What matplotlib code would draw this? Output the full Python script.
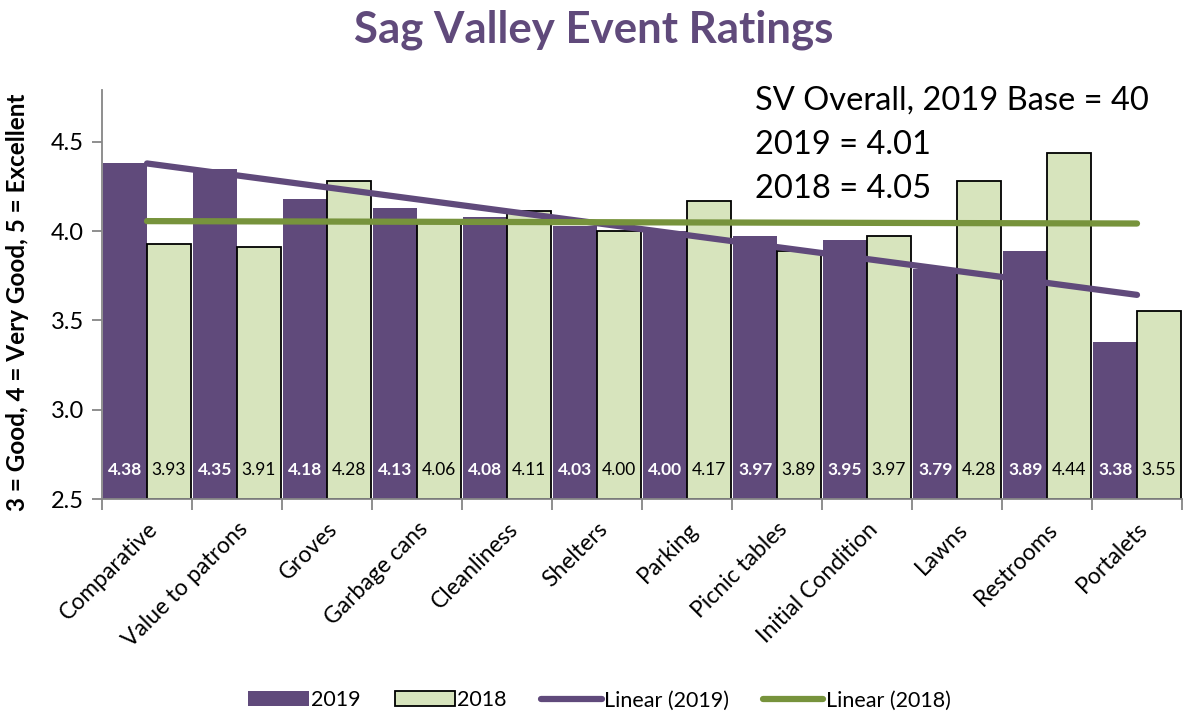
import numpy as np
import matplotlib
matplotlib.use("Agg")
from matplotlib import pyplot as plt

plt.rcParams['font.family'] = ['Lato', 'DejaVu Sans']

categories = ["Comparative", "Value to patrons", "Groves", "Garbage cans",
              "Cleanliness", "Shelters", "Parking", "Picnic tables",
              "Initial Condition", "Lawns", "Restrooms", "Portalets"]
vals_2019 = [4.38, 4.35, 4.18, 4.13, 4.08, 4.03, 4.00, 3.97, 3.95, 3.79, 3.89, 3.38]
vals_2018 = [3.93, 3.91, 4.28, 4.06, 4.11, 4.00, 4.17, 3.89, 3.97, 4.28, 4.44, 3.55]
y_ticks = [2.5, 3.0, 3.5, 4.0, 4.5]
note_lines = ["SV Overall, 2019 Base = 40", "2019 = 4.01", "2018 = 4.05"]

purple = "#604A7B"
light_green = "#D7E4BD"
dark_green = "#77933C"

fig = plt.figure(figsize=(11.87, 7.19), dpi=100)
ax = fig.add_axes([102 / 1187, 1 - 499 / 719, 1080 / 1187, 409 / 719])

x = np.arange(len(categories))
w = 0.485
b1 = ax.bar(x - w / 2, np.array(vals_2019) - 2.5, w, bottom=2.5, color=purple,
            edgecolor=purple, linewidth=0, label="2019")
b2 = ax.bar(x + w / 2, np.array(vals_2018) - 2.5, w, bottom=2.5, color=light_green,
            edgecolor="black", linewidth=1.3, label="2018")

# trendlines (linear fit like Excel)
k1 = np.polyfit(x + 1, vals_2019, 1)
k2 = np.polyfit(x + 1, vals_2018, 1)
l1, = ax.plot(x, np.polyval(k1, x + 1), color=purple, lw=4.5, solid_capstyle="round",
              label="Linear (2019)")
l2, = ax.plot(x, np.polyval(k2, x + 1), color=dark_green, lw=4.5, solid_capstyle="round",
              label="Linear (2018)")

for i in range(len(categories)):
    ax.text(x[i] - w / 2, 2.665, f"{vals_2019[i]:.2f}", ha="center", va="center",
            color="white", fontsize=12.5, fontweight="bold")
    ax.text(x[i] + w / 2, 2.665, f"{vals_2018[i]:.2f}", ha="center", va="center",
            color="black", fontsize=12.5)

ax.set_xlim(-0.5, len(categories) - 0.5)
ax.set_ylim(2.5, 4.79)
ax.set_yticks(y_ticks)
ax.set_yticklabels([f"{t:.1f}" for t in y_ticks], fontsize=17)
ax.set_xticks(x)
ax.set_xticklabels(categories, rotation=45, ha="right", rotation_mode="anchor",
                   fontsize=16.5)
ax.set_xticks(np.arange(len(categories) + 1) - 0.5, minor=True)
ax.tick_params(axis="x", which="major", length=0, pad=14)
ax.tick_params(axis="x", which="minor", length=8, color="#868686", width=1.3)
ax.tick_params(axis="y", length=7, color="#868686", width=1.3, pad=6)

for s in ["top", "right"]:
    ax.spines[s].set_visible(False)
for s in ["left", "bottom"]:
    ax.spines[s].set_color("#868686")
    ax.spines[s].set_linewidth(1.3)

fig.text(18 / 1187, 1 - 302 / 719, "3 = Good, 4 = Very Good, 5 = Excellent",
         rotation=90, ha="center", va="center", fontsize=17.5, fontweight="bold")

fig.text(0.5, 0.958, "Sag Valley Event Ratings", ha="center", va="center",
         fontsize=31.5, fontweight="bold", color=purple)

for j, line in enumerate(note_lines):
    fig.text(755 / 1187, 1 - (101 + 44 * j) / 719, line, ha="left", va="center",
             fontsize=23.5)

fig.legend([b1, b2, l1, l2], ["2019", "2018", "Linear (2019)", "Linear (2018)"],
           loc="lower center", ncol=4, frameon=False,
           fontsize=15.5, bbox_to_anchor=(0.505, -0.015), handlelength=2.8,
           handletextpad=0.1, columnspacing=1.6)

fig.savefig("out.png", dpi=100)
